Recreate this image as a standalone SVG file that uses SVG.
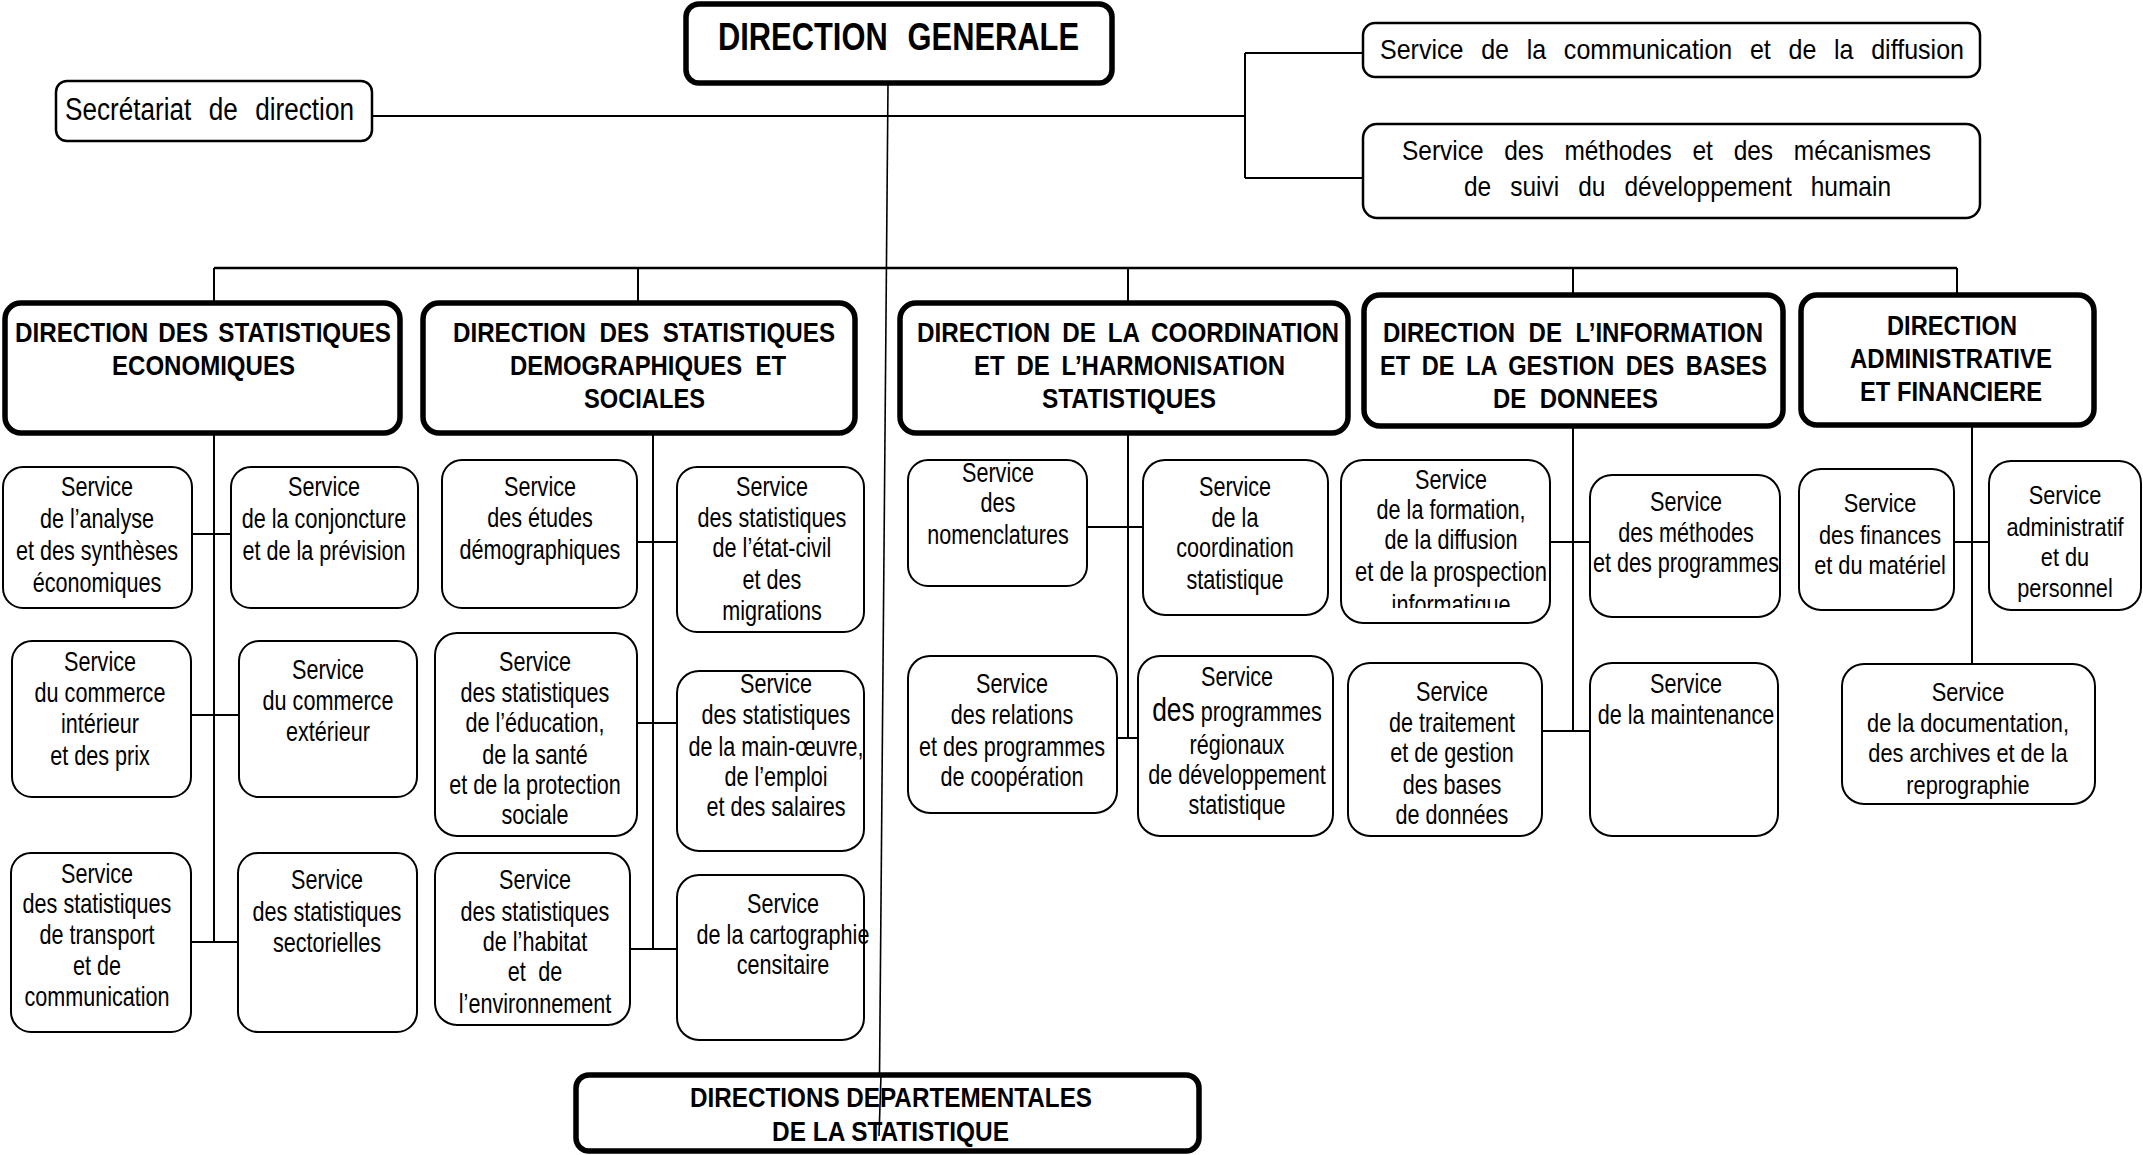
<svg xmlns="http://www.w3.org/2000/svg" width="2143" height="1155" viewBox="0 0 2143 1155">
<style>
.bg{fill:#fff}
.sb{fill:#fff;stroke:#000;stroke-width:2}
.tb{fill:#fff;stroke:#000;stroke-width:2.5}
.db{fill:#fff;stroke:#000;stroke-width:5.5}
.c{fill:none;stroke:#000;stroke-width:2}
.s{font-family:"Liberation Sans",Arial,sans-serif;font-size:27px;text-anchor:middle;fill:#000}
.a{font-family:"Liberation Sans",Arial,sans-serif;font-size:25px;text-anchor:middle;fill:#000}
.r{font-family:"Liberation Sans",Arial,sans-serif;font-size:28px;fill:#000}
.h{font-family:"Liberation Sans",Arial,sans-serif;font-size:28px;font-weight:bold;fill:#000}
</style>
<defs>
<clipPath id="clipQ"><rect x="1341" y="460" width="209" height="148"/></clipPath>
</defs>
<rect class="bg" x="0" y="0" width="2143" height="1155"/>

<g id="connectors">
<path class="c" d="M888,84 L879,1136" style="stroke-width:1.6"/>
<path class="c" d="M372,116 H1245 M1245,53 V178 M1245,53 H1363 M1245,178 H1363"/>
<path class="c" d="M214,268 H1957" style="stroke-width:2.4"/>
<path class="c" d="M214,268 V302 M638,268 V302 M1128,268 V302 M1573,268 V294 M1957,268 V294"/>
<path class="c" d="M214,432 V943 M192,534 H231 M191,715 H239 M191,942 H238"/>
<path class="c" d="M653,432 V949 M637,542 H677 M637,723 H677 M630,949 H677"/>
<path class="c" d="M1128,432 V738 M1087,527 H1143 M1117,738 H1138"/>
<path class="c" d="M1573,426 V731 M1550,542 H1590 M1542,731 H1590"/>
<path class="c" d="M1972,426 V664 M1955,542 H1989"/>
</g>

<g id="direction-generale">
<rect class="db" x="686" y="4" width="426" height="79" rx="13"/>
<text class="h" style="font-size:38px;word-spacing:14px" x="718" y="50" textLength="361" lengthAdjust="spacingAndGlyphs">DIRECTION GENERALE</text>
</g>

<g id="secretariat">
<rect class="tb" x="56" y="81" width="316" height="60" rx="11"/>
<text class="r" style="font-size:31px;word-spacing:12px" x="65" y="120" textLength="289" lengthAdjust="spacingAndGlyphs">Secrétariat de direction</text>
</g>

<g id="svc-communication">
<rect class="tb" x="1363" y="23" width="617" height="54" rx="12"/>
<text class="r" style="word-spacing:12px" x="1380" y="59" textLength="584" lengthAdjust="spacingAndGlyphs">Service de la communication  et de la diffusion</text>
</g>

<g id="svc-methodes-dh">
<rect class="tb" x="1363" y="124" width="617" height="94" rx="14"/>
<text class="r" style="word-spacing:16px" x="1402" y="160" textLength="529" lengthAdjust="spacingAndGlyphs">Service des méthodes et des mécanismes</text>
<text class="r" style="word-spacing:14px" x="1464" y="196" textLength="427" lengthAdjust="spacingAndGlyphs">de suivi du développement humain</text>
</g>

<g id="dir-dse">
<rect class="db" x="5" y="303" width="395" height="130" rx="16"/>
<text class="h" style="word-spacing:4px" x="15" y="342" textLength="376" lengthAdjust="spacingAndGlyphs">DIRECTION DES STATISTIQUES</text>
<text class="h" x="112" y="375" textLength="183" lengthAdjust="spacingAndGlyphs">ECONOMIQUES</text>
</g>

<g id="dir-dsds">
<rect class="db" x="423" y="303" width="432" height="130" rx="16"/>
<text class="h" style="word-spacing:8px" x="453" y="342" textLength="382" lengthAdjust="spacingAndGlyphs">DIRECTION DES STATISTIQUES</text>
<text class="h" style="word-spacing:8px" x="510" y="375" textLength="276" lengthAdjust="spacingAndGlyphs">DEMOGRAPHIQUES ET</text>
<text class="h" x="584" y="408" textLength="121" lengthAdjust="spacingAndGlyphs">SOCIALES</text>
</g>

<g id="dir-dchs">
<rect class="db" x="900" y="303" width="448" height="130" rx="16"/>
<text class="h" style="word-spacing:6px" x="917" y="342" textLength="422" lengthAdjust="spacingAndGlyphs">DIRECTION DE LA COORDINATION</text>
<text class="h" style="word-spacing:6px" x="974" y="375" textLength="311" lengthAdjust="spacingAndGlyphs">ET DE L’HARMONISATION</text>
<text class="h" x="1042" y="408" textLength="174" lengthAdjust="spacingAndGlyphs">STATISTIQUES</text>
</g>

<g id="dir-digbd">
<rect class="db" x="1364" y="295" width="419" height="131" rx="16"/>
<text class="h" style="word-spacing:8px" x="1383" y="342" textLength="380" lengthAdjust="spacingAndGlyphs">DIRECTION DE L’INFORMATION</text>
<text class="h" style="word-spacing:6px" x="1380" y="375" textLength="387" lengthAdjust="spacingAndGlyphs">ET DE LA GESTION DES BASES</text>
<text class="h" style="word-spacing:8px" x="1493" y="408" textLength="165" lengthAdjust="spacingAndGlyphs">DE DONNEES</text>
</g>

<g id="dir-daf">
<rect class="db" x="1801" y="295" width="293" height="130" rx="16"/>
<text class="h" style="font-size:27px" x="1887" y="335" textLength="130" lengthAdjust="spacingAndGlyphs">DIRECTION</text>
<text class="h" style="font-size:27px" x="1850" y="368" textLength="202" lengthAdjust="spacingAndGlyphs">ADMINISTRATIVE</text>
<text class="h" style="font-size:27px" x="1860" y="401" textLength="182" lengthAdjust="spacingAndGlyphs">ET FINANCIERE</text>
</g>

<g id="svc-analyse">
<rect class="sb" x="3" y="467" width="189" height="141" rx="20"/>
<text class="s" transform="translate(97 0) scale(0.8 1)"><tspan x="0" y="496">Service</tspan><tspan x="0" y="528">de l’analyse</tspan><tspan x="0" y="560">et des synthèses</tspan><tspan x="0" y="592">économiques</tspan></text>
</g>

<g id="svc-conjoncture">
<rect class="sb" x="231" y="467" width="187" height="141" rx="20"/>
<text class="s" transform="translate(324 0) scale(0.8 1)"><tspan x="0" y="496">Service</tspan><tspan x="0" y="528">de la conjoncture</tspan><tspan x="0" y="560">et de la prévision</tspan></text>
</g>

<g id="svc-commerce-interieur">
<rect class="sb" x="12" y="641" width="179" height="156" rx="20"/>
<text class="s" transform="translate(100 0) scale(0.8 1)"><tspan x="0" y="671">Service</tspan><tspan x="0" y="702">du commerce</tspan><tspan x="0" y="733">intérieur</tspan><tspan x="0" y="765">et des prix</tspan></text>
</g>

<g id="svc-commerce-exterieur">
<rect class="sb" x="239" y="641" width="178" height="156" rx="20"/>
<text class="s" transform="translate(328 0) scale(0.8 1)"><tspan x="0" y="679">Service</tspan><tspan x="0" y="710">du commerce</tspan><tspan x="0" y="741">extérieur</tspan></text>
</g>

<g id="svc-transport">
<rect class="sb" x="11" y="853" width="180" height="179" rx="20"/>
<text class="s" transform="translate(97 0) scale(0.8 1)"><tspan x="0" y="883">Service</tspan><tspan x="0" y="913">des statistiques</tspan><tspan x="0" y="944">de transport</tspan><tspan x="0" y="975">et de</tspan><tspan x="0" y="1006">communication</tspan></text>
</g>

<g id="svc-sectorielles">
<rect class="sb" x="238" y="853" width="179" height="179" rx="20"/>
<text class="s" transform="translate(327 0) scale(0.8 1)"><tspan x="0" y="889">Service</tspan><tspan x="0" y="921">des statistiques</tspan><tspan x="0" y="952">sectorielles</tspan></text>
</g>

<g id="svc-etudes-demo">
<rect class="sb" x="442" y="460" width="195" height="148" rx="20"/>
<text class="s" transform="translate(540 0) scale(0.8 1)"><tspan x="0" y="496">Service</tspan><tspan x="0" y="527">des études</tspan><tspan x="0" y="559">démographiques</tspan></text>
</g>

<g id="svc-etat-civil">
<rect class="sb" x="677" y="467" width="187" height="165" rx="20"/>
<text class="s" transform="translate(772 0) scale(0.8 1)"><tspan x="0" y="496">Service</tspan><tspan x="0" y="527">des statistiques</tspan><tspan x="0" y="557">de l’état-civil</tspan><tspan x="0" y="589">et des</tspan><tspan x="0" y="620">migrations</tspan></text>
</g>

<g id="svc-education">
<rect class="sb" x="435" y="633" width="202" height="203" rx="22"/>
<text class="s" transform="translate(535 0) scale(0.8 1)"><tspan x="0" y="671">Service</tspan><tspan x="0" y="702">des statistiques</tspan><tspan x="0" y="732">de l’éducation,</tspan><tspan x="0" y="764">de la santé</tspan><tspan x="0" y="794">et de la protection</tspan><tspan x="0" y="824">sociale</tspan></text>
</g>

<g id="svc-main-oeuvre">
<rect class="sb" x="677" y="671" width="187" height="180" rx="22"/>
<text class="s" transform="translate(776 0) scale(0.8 1)"><tspan x="0" y="693">Service</tspan><tspan x="0" y="724">des statistiques</tspan><tspan x="0" y="756">de la main-œuvre,</tspan><tspan x="0" y="786">de l’emploi</tspan><tspan x="0" y="816">et des salaires</tspan></text>
</g>

<g id="svc-habitat">
<rect class="sb" x="435" y="853" width="195" height="172" rx="22"/>
<text class="s" transform="translate(535 0) scale(0.8 1)"><tspan x="0" y="889">Service</tspan><tspan x="0" y="921">des statistiques</tspan><tspan x="0" y="951">de l’habitat</tspan><tspan x="0" y="981" style="word-spacing:8px">et de</tspan><tspan x="0" y="1013">l’environnement</tspan></text>
</g>

<g id="svc-cartographie">
<rect class="sb" x="677" y="875" width="187" height="165" rx="22"/>
<text class="s" transform="translate(783 0) scale(0.8 1)"><tspan x="0" y="913">Service</tspan><tspan x="0" y="944">de la cartographie</tspan><tspan x="0" y="974">censitaire</tspan></text>
</g>

<g id="svc-nomenclatures">
<rect class="sb" x="908" y="460" width="179" height="126" rx="20"/>
<text class="s" transform="translate(998 0) scale(0.8 1)"><tspan x="0" y="482">Service</tspan><tspan x="0" y="512">des</tspan><tspan x="0" y="544">nomenclatures</tspan></text>
</g>

<g id="svc-coordination">
<rect class="sb" x="1143" y="460" width="185" height="155" rx="22"/>
<text class="s" transform="translate(1235 0) scale(0.8 1)"><tspan x="0" y="496">Service</tspan><tspan x="0" y="527">de la</tspan><tspan x="0" y="557">coordination</tspan><tspan x="0" y="589">statistique</tspan></text>
</g>

<g id="svc-relations">
<rect class="sb" x="908" y="656" width="209" height="157" rx="22"/>
<text class="s" transform="translate(1012 0) scale(0.8 1)"><tspan x="0" y="693">Service</tspan><tspan x="0" y="724">des relations</tspan><tspan x="0" y="756">et des programmes</tspan><tspan x="0" y="786">de coopération</tspan></text>
</g>

<g id="svc-programmes-regionaux">
<rect class="sb" x="1138" y="656" width="195" height="180" rx="22"/>
<text class="s" transform="translate(1237 0) scale(0.8 1)"><tspan x="0" y="686">Service</tspan><tspan x="0" y="721"><tspan style="font-size:33px">des</tspan> programmes</tspan><tspan x="0" y="754">régionaux</tspan><tspan x="0" y="784">de développement</tspan><tspan x="0" y="814">statistique</tspan></text>
</g>

<g id="svc-formation">
<rect class="sb" x="1341" y="460" width="209" height="163" rx="22"/>
<g clip-path="url(#clipQ)">
<text class="s" transform="translate(1451 0) scale(0.8 1)"><tspan x="0" y="489">Service</tspan><tspan x="0" y="519">de la formation,</tspan><tspan x="0" y="549">de la diffusion</tspan><tspan x="0" y="581" textLength="240" lengthAdjust="spacingAndGlyphs">et de la prospection</tspan><tspan x="0" y="614">informatique</tspan></text>
</g>
</g>

<g id="svc-methodes-programmes">
<rect class="sb" x="1590" y="475" width="190" height="142" rx="22"/>
<text class="s" transform="translate(1686 0) scale(0.8 1)"><tspan x="0" y="511">Service</tspan><tspan x="0" y="542">des méthodes</tspan><tspan x="0" y="572">et des programmes</tspan></text>
</g>

<g id="svc-traitement">
<rect class="sb" x="1348" y="663" width="194" height="173" rx="22"/>
<text class="s" transform="translate(1452 0) scale(0.8 1)"><tspan x="0" y="701">Service</tspan><tspan x="0" y="732">de traitement</tspan><tspan x="0" y="762">et de gestion</tspan><tspan x="0" y="794">des bases</tspan><tspan x="0" y="824">de données</tspan></text>
</g>

<g id="svc-maintenance">
<rect class="sb" x="1590" y="663" width="188" height="173" rx="22"/>
<text class="s" transform="translate(1686 0) scale(0.8 1)"><tspan x="0" y="693">Service</tspan><tspan x="0" y="724">de la maintenance</tspan></text>
</g>

<g id="svc-finances">
<rect class="sb" x="1799" y="469" width="155" height="141" rx="22"/>
<text class="a" transform="translate(1880 0) scale(0.87 1)"><tspan x="0" y="512">Service</tspan><tspan x="0" y="544">des finances</tspan><tspan x="0" y="574">et du matériel</tspan></text>
</g>

<g id="svc-administratif">
<rect class="sb" x="1989" y="461" width="152" height="149" rx="22"/>
<text class="a" transform="translate(2065 0) scale(0.87 1)"><tspan x="0" y="504">Service</tspan><tspan x="0" y="536">administratif</tspan><tspan x="0" y="566">et du</tspan><tspan x="0" y="597">personnel</tspan></text>
</g>

<g id="svc-documentation">
<rect class="sb" x="1842" y="664" width="253" height="140" rx="22"/>
<text class="a" transform="translate(1968 0) scale(0.87 1)"><tspan x="0" y="701">Service</tspan><tspan x="0" y="732">de la documentation,</tspan><tspan x="0" y="762">des archives et de la</tspan><tspan x="0" y="794">reprographie</tspan></text>
</g>

<g id="dir-departementales">
<rect class="db" x="576" y="1075" width="623" height="76" rx="13"/>
<text class="h" style="font-size:27px" x="690" y="1107" textLength="402" lengthAdjust="spacingAndGlyphs">DIRECTIONS DEPARTEMENTALES</text>
<text class="h" style="font-size:27px" x="772" y="1141" textLength="237" lengthAdjust="spacingAndGlyphs">DE LA STATISTIQUE</text>
</g>

<path class="c" d="M881,1075 L879,1136" style="stroke-width:1.6"/>
</svg>
